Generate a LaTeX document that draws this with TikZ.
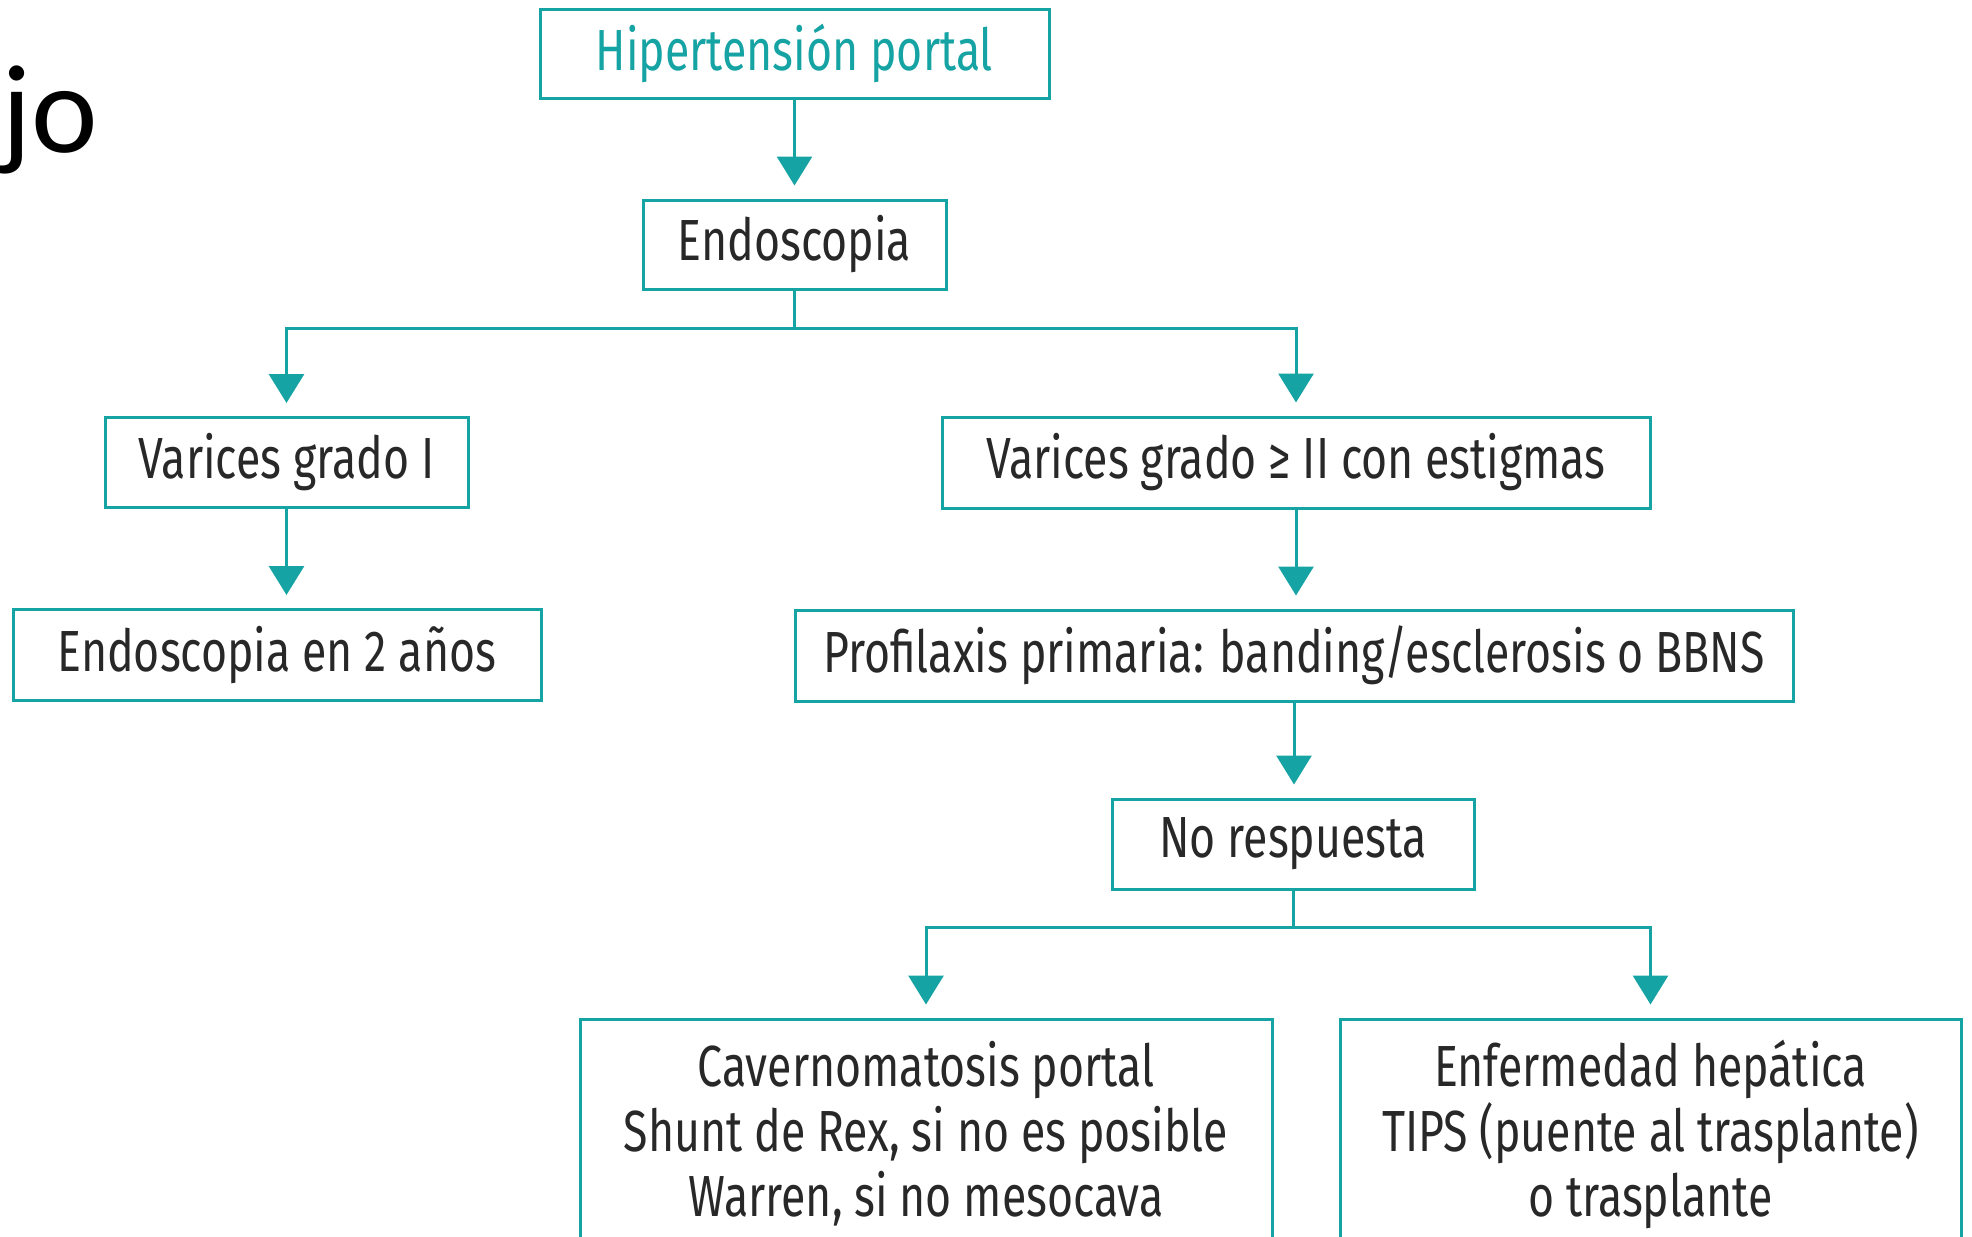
\documentclass[tikz,border=0pt]{standalone}
\usepackage{fontspec}
\setmainfont{Fira Sans}[FakeStretch=0.77]
\newfontfamily\slidefont{Carlito}
\usetikzlibrary{arrows.meta}
\definecolor{tealline}{RGB}{22,163,163}
\definecolor{bodytext}{RGB}{40,40,40}
\tikzset{
  boxnode/.style={draw=tealline, line width=1.5pt, inner sep=0pt, align=center, text=bodytext, font=\fontsize{29}{32.5}\selectfont},
  flowline/.style={draw=tealline, line width=1.5pt},
  flowarrow/.style={flowline, -{Triangle[length=14.5pt,width=17.5pt]}, shorten >=6.5pt}
}
\begin{document}
\begin{tikzpicture}[x=0.5pt,y=0.5pt,yscale=-1,xscale=1]
\clip (0,0) rectangle (1972,1237);

% Text Node
\node (slide) [anchor=base west, inner sep=0pt, font=\slidefont\fontsize{63}{75}\selectfont] at (1,152) {jo};

%Shape: Rectangle
\node (hip) [boxnode, text=tealline, minimum width=254.5pt, minimum height=44.5pt] at (794.5,53.5) {Hipertensión portal};
%Shape: Rectangle
\node (endo) [boxnode, minimum width=151.5pt, minimum height=44.5pt] at (794.5,244.5) {Endoscopia};
%Shape: Rectangle
\node (var1) [boxnode, minimum width=181.5pt, minimum height=45pt] at (286.5,462.5) {Varices grado I};
%Shape: Rectangle
\node (var2) [boxnode, minimum width=354pt, minimum height=45.5pt] at (1296,462.5) {Varices grado ≥ II con estigmas};
%Shape: Rectangle
\node (endo2) [boxnode, minimum width=264pt, minimum height=45.5pt] at (277,655) {Endoscopia en 2 años};
%Shape: Rectangle
\node (prof) [boxnode, minimum width=499pt, minimum height=45.5pt] at (1294,655.5) {Profilaxis primaria: banding/esclerosis o BBNS};
%Shape: Rectangle
\node (nores) [boxnode, minimum width=181pt, minimum height=45pt] at (1293,844) {No respuesta};
%Shape: Rectangle
\node (cav) [boxnode, minimum width=346pt, minimum height=115pt] at (926,1134) {Cavernomatosis portal\\Shunt de Rex, si no es posible\\Warren, si no mesocava};
%Shape: Rectangle
\node (enf) [boxnode, minimum width=310.5pt, minimum height=115pt] at (1650.5,1134) {Enfermedad hepática\\TIPS (puente al trasplante)\\o trasplante};

\coordinate (split1) at (794.5,328);
\coordinate (split2) at (1293,927);

%Straight Lines
\draw [flowarrow] (hip) -- (endo);
\draw [flowline] (endo) -- (split1);
\draw [flowarrow] (split1) -| (var1);
\draw [flowarrow] (split1) -| (var2);
%Straight Lines
\draw [flowarrow] (var1.south) -- (var1.south |- endo2.north);
\draw [flowarrow] (var2.south) -- (var2.south |- prof.north);
\draw [flowarrow] (prof.south) -- (prof.south |- nores.north);
%Straight Lines
\draw [flowline] (nores) -- (split2);
\draw [flowarrow] (split2) -| (cav);
\draw [flowarrow] (split2) -| (enf);
\end{tikzpicture}
\end{document}
